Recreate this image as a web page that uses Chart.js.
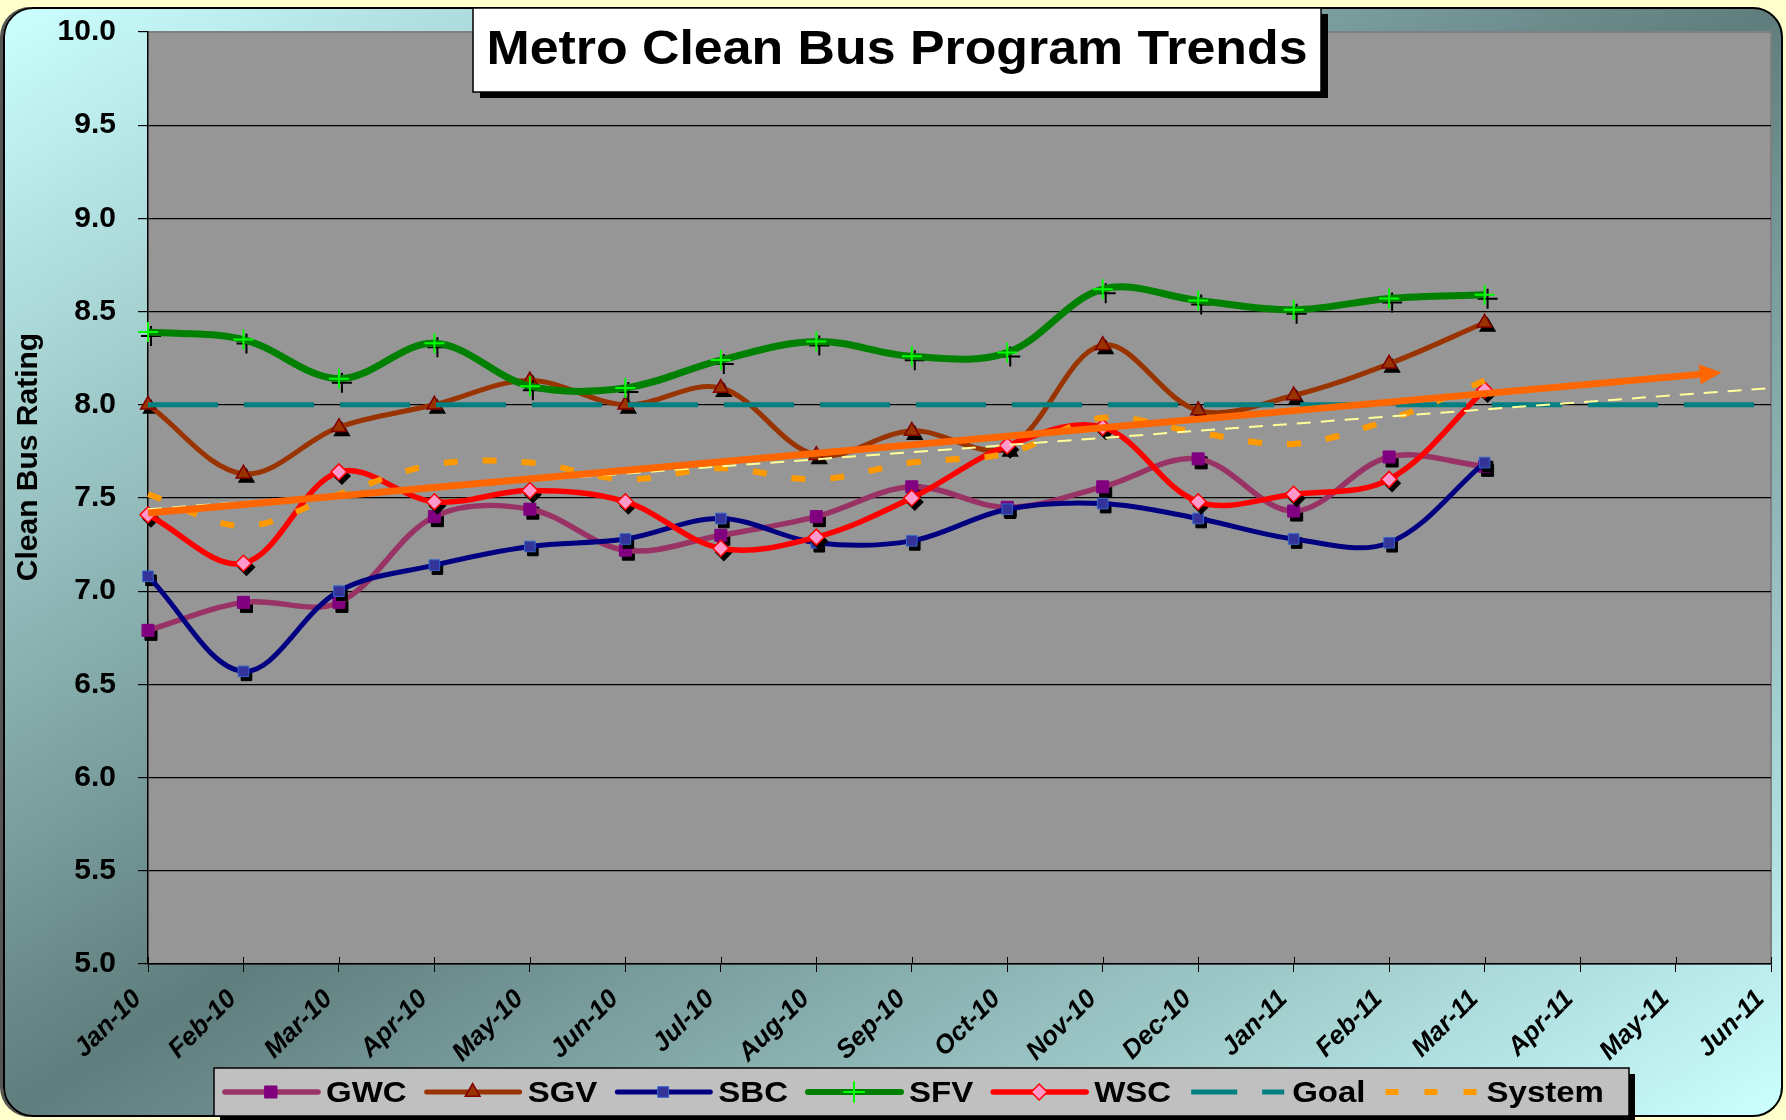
<!DOCTYPE html>
<html>
<head>
<meta charset="utf-8">
<script src="https://cdn.jsdelivr.net/npm/chart.js@4.4.0/dist/chart.umd.min.js"></script>
<style>
html, body { margin: 0; padding: 0; background: #ffffcc; }
#wrap { position: relative; width: 1786px; height: 1120px; overflow: hidden; }
#frame {
    position: absolute; left: 3px; top: 7px; width: 1776px; height: 1106px;
    border: 2px solid #000; border-radius: 30px;
    background: linear-gradient(to bottom right, #ccffff 0%, #5f7d7d 50%, #ccffff 100%);
    box-shadow: -3px 0 0 #555;
}
canvas { position: absolute; left: 0; top: 0; }
</style>
</head>
<body>
<div id="wrap">
    <div id="frame"></div>
    <canvas id="chart" width="1786" height="1120"></canvas>
</div>
<script>
// Aylar (x ekseni etiketleri)
const months = ['Jan-10', 'Feb-10', 'Mar-10', 'Apr-10', 'May-10', 'Jun-10', 'Jul-10', 'Aug-10', 'Sep-10',
    'Oct-10', 'Nov-10', 'Dec-10', 'Jan-11', 'Feb-11', 'Mar-11', 'Apr-11', 'May-11', 'Jun-11'];

// Bölge değerleri (Jan-10 .. Mar-11)
const gwc = [6.79, 6.94, 6.94, 7.40, 7.44, 7.22, 7.30, 7.40, 7.56, 7.45, 7.56, 7.71, 7.43, 7.72, 7.67];
const sgv = [8.00, 7.63, 7.88, 8.00, 8.13, 8.00, 8.09, 7.73, 7.86, 7.77, 8.32, 7.97, 8.05, 8.22, 8.44];
const sbc = [7.08, 6.57, 7.00, 7.14, 7.24, 7.28, 7.39, 7.26, 7.27, 7.44, 7.47, 7.39, 7.28, 7.26, 7.69];
const sfv = [8.39, 8.35, 8.14, 8.33, 8.10, 8.09, 8.24, 8.34, 8.26, 8.28, 8.62, 8.56, 8.51, 8.57, 8.59];
const wsc = [7.41, 7.15, 7.64, 7.48, 7.54, 7.48, 7.23, 7.29, 7.50, 7.78, 7.88, 7.48, 7.52, 7.60, 8.08];
const system = [7.52, 7.35, 7.52, 7.68, 7.69, 7.60, 7.66, 7.60, 7.69, 7.74, 7.93, 7.85, 7.79, 7.92, 8.13];
const goal = months.map(() => 8.0);

// Trend çizgileri (ay indeksi, değer)
const trendX = [0, 16.4];
const trendY = [7.42, 8.17];
const sysTrendX = [0, 17];
const sysTrendY = [7.44, 8.09];

// Y ekseni tikleri
const yTicks = [5.0, 5.5, 6.0, 6.5, 7.0, 7.5, 8.0, 8.5, 9.0, 9.5, 10.0];

const FONT = "'Liberation Sans', Arial, sans-serif";

function toXY(values) {
    return values.map((v, i) => ({ x: i, y: v }));
}
function pairXY(xs, ys) {
    return xs.map((x, i) => ({ x: x, y: ys[i] }));
}

function drawMarker(ctx, style, radius, bw, x, y) {
    if (Chart.helpers && Chart.helpers.drawPoint) {
        Chart.helpers.drawPoint(ctx, { pointStyle: style, radius: radius, rotation: 0, borderWidth: bw }, x, y);
    } else {
        ctx.fillRect(x - radius * 0.7, y - radius * 0.7, radius * 1.4, radius * 1.4);
    }
}

// Yazıyı yatayda biraz genişleterek çiz
function stretchText(ctx, text, x, y, sx, align) {
    ctx.save();
    ctx.translate(x, y);
    ctx.scale(sx, 1);
    ctx.textAlign = align;
    ctx.fillText(text, 0, 0);
    ctx.restore();
}

const datasets = [
    {
        label: 'Trend', data: pairXY(trendX, trendY), borderColor: '#ff6600', borderWidth: 7,
        pointRadius: 0, tension: 0, order: 0, arrow: true
    },
    {
        label: 'System trend', data: pairXY(sysTrendX, sysTrendY), borderColor: '#ffff99', borderWidth: 2,
        borderDash: [14, 10], pointRadius: 0, tension: 0, order: 1
    },
    {
        label: 'GWC', data: toXY(gwc), borderColor: '#993366', borderWidth: 5.5,
        pointStyle: 'rect', pointRadius: 8.5, pointBackgroundColor: '#800080', pointBorderColor: '#800080',
        pointBorderWidth: 1, order: 10, markerShadow: true
    },
    {
        label: 'SGV', data: toXY(sgv), borderColor: '#993300', borderWidth: 5,
        pointStyle: 'triangle', pointRadius: 8.5, pointBackgroundColor: '#993300', pointBorderColor: '#800000',
        pointBorderWidth: 1.5, order: 9, markerShadow: true
    },
    {
        label: 'SBC', data: toXY(sbc), borderColor: '#000080', borderWidth: 5,
        pointStyle: 'rect', pointRadius: 7.5, pointBackgroundColor: '#333399', pointBorderColor: '#3366cc',
        pointBorderWidth: 1, order: 8, markerShadow: true
    },
    {
        label: 'SFV', data: toXY(sfv), borderColor: '#008000', borderWidth: 7,
        pointStyle: 'cross', pointRadius: 10, pointBackgroundColor: '#00ff00', pointBorderColor: '#00ff00',
        pointBorderWidth: 2, order: 7, markerShadow: true
    },
    {
        label: 'WSC', data: toXY(wsc), borderColor: '#ff0000', borderWidth: 5.5,
        pointStyle: 'rectRot', pointRadius: 8, pointBackgroundColor: '#ff99cc', pointBorderColor: '#ff0000',
        pointBorderWidth: 1.5, order: 6, markerShadow: true
    },
    {
        label: 'Goal', data: toXY(goal), borderColor: '#008080', borderWidth: 5,
        borderDash: [70, 26], pointRadius: 0, tension: 0, order: 5
    },
    {
        label: 'System', data: toXY(system), borderColor: '#ff9900', borderWidth: 6,
        borderDash: [14, 25], pointRadius: 0, order: 4
    }
];

// Lejant öğeleri
const legendItems = [
    { name: 'GWC', ds: 2 },
    { name: 'SGV', ds: 3 },
    { name: 'SBC', ds: 4 },
    { name: 'SFV', ds: 5 },
    { name: 'WSC', ds: 6 },
    { name: 'Goal', ds: 7, dash: [46, 25] },
    { name: 'System', ds: 8, dash: [13, 26] }
];

const decor = {
    id: 'decor',
    beforeDraw(chart) {
        const { ctx, chartArea: a } = chart;
        ctx.save();
        ctx.fillStyle = '#969696';
        ctx.fillRect(a.left, a.top, a.right - a.left, a.bottom - a.top);
        ctx.strokeStyle = '#808080';
        ctx.lineWidth = 2;
        ctx.beginPath();
        ctx.moveTo(a.left, a.top);
        ctx.lineTo(a.right, a.top);
        ctx.lineTo(a.right, a.bottom);
        ctx.stroke();
        ctx.restore();
    },
    beforeDatasetDraw(chart, args) {
        const ds = chart.data.datasets[args.index];
        if (!ds.markerShadow) return;
        const ctx = chart.ctx;
        ctx.save();
        ctx.fillStyle = '#000';
        ctx.strokeStyle = '#000';
        ctx.lineWidth = ds.pointBorderWidth;
        args.meta.data.forEach(pt => {
            drawMarker(ctx, ds.pointStyle, ds.pointRadius, ds.pointBorderWidth, pt.x + 3, pt.y + 4);
        });
        ctx.restore();
    },
    afterDatasetDraw(chart, args) {
        const ds = chart.data.datasets[args.index];
        if (!ds.arrow) return;
        const pts = args.meta.data;
        const p1 = pts[pts.length - 2], p2 = pts[pts.length - 1];
        const ang = Math.atan2(p2.y - p1.y, p2.x - p1.x);
        const ctx = chart.ctx;
        ctx.save();
        ctx.translate(p2.x, p2.y);
        ctx.rotate(ang);
        ctx.fillStyle = ds.borderColor;
        ctx.beginPath();
        ctx.moveTo(8, 0);
        ctx.lineTo(-14, -10);
        ctx.lineTo(-14, 10);
        ctx.closePath();
        ctx.fill();
        ctx.restore();
    },
    afterDraw(chart) {
        const ctx = chart.ctx;
        const a = chart.chartArea;
        const xs = chart.scales.x;
        ctx.save();

        // x ekseninin iç tarafındaki tik çizgileri ve eğik ay etiketleri
        ctx.strokeStyle = '#000';
        ctx.lineWidth = 1;
        ctx.fillStyle = '#000';
        ctx.font = 'italic bold 26px ' + FONT;
        months.forEach((m, i) => {
            const px = Math.round(xs.getPixelForValue(i)) + 0.5;
            ctx.beginPath();
            ctx.moveTo(px, a.bottom - 7);
            ctx.lineTo(px, a.bottom);
            ctx.stroke();

            ctx.save();
            ctx.translate(px - 11, a.bottom + 31);
            ctx.rotate(-Math.PI / 4);
            ctx.textAlign = 'right';
            ctx.textBaseline = 'middle';
            ctx.fillText(m, 0, 0);
            ctx.restore();
        });

        // Başlık kutusu
        ctx.fillStyle = '#000';
        ctx.fillRect(480, 14, 848, 84);
        ctx.fillStyle = '#fff';
        ctx.fillRect(473, 8, 848, 84);
        ctx.strokeStyle = '#000';
        ctx.lineWidth = 1.5;
        ctx.strokeRect(473, 8, 848, 84);
        ctx.fillStyle = '#000';
        ctx.font = 'bold 48px ' + FONT;
        ctx.textBaseline = 'alphabetic';
        stretchText(ctx, 'Metro Clean Bus Program Trends', 897, 64, 1.08, 'center');

        // Y ekseni başlığı
        ctx.save();
        ctx.translate(29, 457);
        ctx.rotate(-Math.PI / 2);
        ctx.font = 'bold 30px ' + FONT;
        ctx.textBaseline = 'middle';
        stretchText(ctx, 'Clean Bus Rating', 0, 0, 1.0, 'center');
        ctx.restore();

        // Lejant kutusu
        const lx = 214, ly = 1068, lw = 1415, lh = 48;
        ctx.fillStyle = '#000';
        ctx.fillRect(lx + 6, ly + 6, lw, lh);
        ctx.fillStyle = '#c0c0c0';
        ctx.fillRect(lx, ly, lw, lh);
        ctx.strokeStyle = '#000';
        ctx.lineWidth = 1.5;
        ctx.strokeRect(lx, ly, lw, lh);

        const cy = ly + 24;
        let x = 225;
        ctx.font = 'bold 30px ' + FONT;
        ctx.textBaseline = 'middle';
        legendItems.forEach(item => {
            const ds = chart.data.datasets[item.ds];
            ctx.save();
            ctx.strokeStyle = ds.borderColor;
            ctx.lineWidth = Math.min(ds.borderWidth, 6);
            ctx.lineCap = item.dash ? 'butt' : 'round';
            if (item.dash) ctx.setLineDash(item.dash);
            ctx.beginPath();
            ctx.moveTo(x, cy);
            ctx.lineTo(x + 93, cy);
            ctx.stroke();
            ctx.setLineDash([]);
            if (ds.pointRadius) {
                ctx.fillStyle = ds.pointBackgroundColor;
                ctx.strokeStyle = ds.pointBorderColor;
                ctx.lineWidth = ds.pointBorderWidth;
                drawMarker(ctx, ds.pointStyle, ds.pointRadius, ds.pointBorderWidth, x + 46, cy);
            }
            ctx.restore();
            ctx.fillStyle = '#000';
            const tx = x + 101;
            stretchText(ctx, item.name, tx, cy + 2, 1.1, 'left');
            x = tx + ctx.measureText(item.name).width * 1.1 + 20;
        });

        ctx.restore();
    }
};

new Chart(document.getElementById('chart'), {
    type: 'line',
    data: { datasets: datasets.map(d => Object.assign({ fill: false, tension: 0.35, clip: false }, d)) },
    options: {
        responsive: false,
        animation: false,
        events: [],
        layout: { padding: { top: 32, right: 15, left: 0, bottom: 0 } },
        plugins: { legend: { display: false }, tooltip: { enabled: false }, title: { display: false } },
        scales: {
            x: {
                type: 'linear',
                min: 0,
                max: months.length - 1,
                afterFit: s => { s.height = 156; s.paddingLeft = 0; s.paddingRight = 0; },
                afterBuildTicks: s => { s.ticks = months.map((m, i) => ({ value: i })); },
                ticks: { display: false, stepSize: 1, autoSkip: false },
                grid: { drawOnChartArea: false, tickLength: 8, color: '#000', tickColor: '#000' },
                border: { color: '#000', width: 1.5 }
            },
            y: {
                min: 5,
                max: 10,
                afterFit: s => { s.width = 148; s.paddingTop = 0; s.paddingBottom = 0; },
                afterBuildTicks: s => { s.ticks = yTicks.map(v => ({ value: v })); },
                ticks: {
                    padding: 22,
                    color: '#000',
                    font: { family: FONT, size: 30, weight: 'bold' },
                    callback: v => v.toFixed(1)
                },
                grid: {
                    tickLength: 10,
                    lineWidth: 1.2,
                    color: c => (c.tick && c.tick.value === 10 ? '#808080' : '#000'),
                    tickColor: '#000'
                },
                border: { color: '#000', width: 1.5 }
            }
        }
    },
    plugins: [decor]
});
</script>
</body>
</html>
